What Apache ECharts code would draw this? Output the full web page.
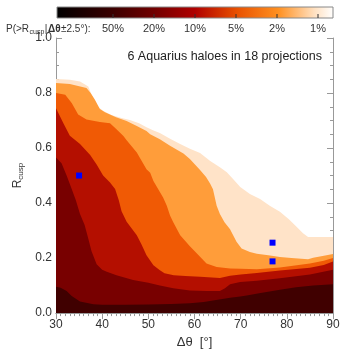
<!DOCTYPE html>
<html>
<head>
<meta charset="utf-8">
<script src="https://cdn.jsdelivr.net/npm/echarts@6/dist/echarts.min.js"></script>
<style>
  html, body { margin: 0; padding: 0; background: #fff; }
  #chart { width: 354px; height: 354px; }
</style>
</head>
<body>
<div id="chart"></div>
<script>
// contour upper edges [dtheta, Rcusp], one per probability level
const level1pct = [[30,0.851],[33,0.848],[35.2,0.842],[37,0.824],[38.1,0.776],[39.2,0.748],[40.2,0.736],[42,0.72],[44,0.71],[46,0.702],[48,0.69],[49.6,0.676],[51,0.665],[52.5,0.655],[54.7,0.634],[57,0.614],[59,0.597],[61.2,0.582],[63.4,0.553],[65.5,0.53],[67,0.512],[68.5,0.485],[69.9,0.458],[72,0.433],[74.2,0.415],[76.3,0.39],[78.5,0.368],[80.5,0.34],[82.1,0.314],[83.5,0.29],[84.6,0.277],[90,0.277]];
const level2pct = [[30,0.836],[33,0.833],[36.6,0.818],[37.5,0.8],[38.4,0.776],[39.5,0.742],[40.6,0.73],[43,0.712],[45.3,0.698],[47.5,0.68],[49.6,0.662],[50.4,0.65],[52.5,0.632],[54.7,0.608],[57.6,0.58],[59,0.56],[61.2,0.52],[62.5,0.495],[63.4,0.47],[64,0.45],[64.8,0.39],[65.5,0.36],[66.5,0.33],[67.7,0.305],[69.1,0.259],[70.2,0.235],[72,0.222],[73.5,0.216],[76,0.21],[78.5,0.204],[81,0.2],[84.6,0.196],[85.7,0.201],[88.6,0.21],[90,0.215]];
const level5pct = [[30,0.8],[32,0.794],[33.4,0.764],[34.8,0.722],[36.6,0.704],[39.5,0.695],[41.7,0.69],[43.1,0.668],[44.6,0.644],[45.3,0.628],[47.5,0.584],[49.6,0.523],[50.4,0.51],[51.1,0.48],[52.5,0.44],[53.2,0.42],[54,0.39],[54.7,0.355],[55.4,0.33],[56.9,0.283],[59,0.243],[61.2,0.205],[62.6,0.18],[64.8,0.168],[67.7,0.162],[70,0.161],[73.5,0.159],[78.5,0.166],[85,0.18],[88,0.19],[90,0.2]];
const level10pct = [[30,0.745],[31.6,0.69],[33,0.645],[35.2,0.615],[37.4,0.575],[38.8,0.54],[40.2,0.5],[41.7,0.475],[42.8,0.451],[43.6,0.41],[44.2,0.37],[45.3,0.332],[47.5,0.283],[48.5,0.25],[49.6,0.21],[51.1,0.174],[52.5,0.156],[53.5,0.145],[55.5,0.138],[58,0.135],[61.2,0.132],[65.5,0.128],[67.7,0.136],[70,0.14],[73.5,0.146],[78.5,0.155],[85,0.165],[88,0.175],[90,0.188]];
const level20pct = [[30,0.566],[31.2,0.545],[32.3,0.5],[33.4,0.451],[34.3,0.41],[35.2,0.36],[36.2,0.32],[37,0.27],[37.7,0.225],[38.8,0.178],[40,0.158],[41,0.15],[43.1,0.138],[46.7,0.12],[50,0.11],[52.5,0.1],[55.4,0.09],[59,0.082],[62.6,0.08],[65.5,0.08],[66.6,0.09],[67.7,0.105],[69.9,0.113],[73.5,0.118],[78.5,0.127],[85,0.14],[90,0.158]];
const level50pct = [[30,0.096],[31,0.092],[32.3,0.08],[33.4,0.062],[35.2,0.042],[38.1,0.032],[40,0.03],[45,0.03],[50,0.031],[55,0.033],[59,0.036],[62,0.04],[64,0.046],[67.7,0.056],[69.9,0.06],[71.3,0.064],[74,0.072],[78.5,0.085],[82,0.094],[85.7,0.1],[90,0.105]];

const lensPoints = [[35,0.5],[76.9,0.256],[76.9,0.188]];

const levelColors = ['#ffe3c8', '#ff9d3a', '#f05a05', '#b40f00', '#780000', '#400000'];
const cbLabels = ['50%', '20%', '10%', '5%', '2%', '1%'];
// colorbar caption pieces: [text, font, dy]
const cbCaption = [
  ['P(>R', '10px Liberation Sans', 0],
  ['cusp', '7px Liberation Sans', 3],
  ['|', '10px Liberation Sans', 0],
  ['Δθ', 'bold 10px Liberation Sans', 0],
  ['±2.5°):', '10px Liberation Sans', 0]
];

const chart = echarts.init(document.getElementById('chart'));

const levels = [level1pct, level2pct, level5pct, level10pct, level20pct, level50pct];
const axisGray = '#999';
const textCol = '#333';
const font = 'Liberation Sans';

// colorbar geometry
const cbX = 57, cbY = 7, cbW = 276, cbH = 11;
const cbTick = i => 113 + i * 41;

const graphic = [
  {
    type: 'rect',
    shape: { x: cbX, y: cbY, width: cbW, height: cbH },
    style: {
      fill: new echarts.graphic.LinearGradient(0, 0, 1, 0, [
        { offset: 0, color: '#000000' },
        { offset: 0.2, color: '#3a0000' },
        { offset: 0.35, color: '#700000' },
        { offset: 0.5, color: '#b00000' },
        { offset: 0.65, color: '#e85000' },
        { offset: 0.8, color: '#ff9020' },
        { offset: 0.93, color: '#ffe0c0' },
        { offset: 1, color: '#ffffff' }
      ]),
      stroke: '#888',
      lineWidth: 1
    }
  },
  {
    type: 'text',
    x: 322, y: 57,
    style: {
      text: '6 Aquarius haloes in 18 projections',
      textAlign: 'right',
      textVerticalAlign: 'middle',
      font: '12.5px ' + font,
      fill: '#222'
    }
  }
];

// caption laid out piece by piece
const ctx = document.createElement('canvas').getContext('2d');
let capX = 6;
cbCaption.forEach(([txt, f, dy]) => {
  graphic.push({
    type: 'text',
    x: capX, y: 29 + dy,
    style: { text: txt, font: f, fill: textCol, textVerticalAlign: 'middle' }
  });
  ctx.font = f;
  capX += ctx.measureText(txt).width + 0.5;
});

cbLabels.forEach((lab, i) => {
  graphic.push({
    type: 'line',
    shape: { x1: cbTick(i), y1: cbY + cbH - 4, x2: cbTick(i), y2: cbY + cbH },
    style: { stroke: '#333', lineWidth: 1 }
  });
  graphic.push({
    type: 'text',
    x: cbTick(i), y: 29,
    style: {
      text: lab,
      textAlign: 'center',
      textVerticalAlign: 'middle',
      font: '11px ' + font,
      fill: textCol
    }
  });
});

const xBase = {
  type: 'value', min: 30, max: 90, interval: 10,
  axisLine: { lineStyle: { color: axisGray } },
  axisTick: { inside: true, length: 6, lineStyle: { color: axisGray } },
  minorTick: { show: true, splitNumber: 10, length: 3, lineStyle: { color: axisGray } },
  splitLine: { show: false }
};
const yBase = {
  type: 'value', min: 0, max: 1, interval: 0.2,
  axisLine: { show: true, lineStyle: { color: axisGray } },
  axisTick: { show: true, inside: true, length: 6, lineStyle: { color: axisGray } },
  minorTick: { show: true, splitNumber: 4, length: 3, lineStyle: { color: axisGray } },
  splitLine: { show: false }
};

const option = {
  animation: false,
  backgroundColor: '#fff',
  graphic: graphic,
  grid: { left: 56, right: 21, top: 38, bottom: 39 },
  xAxis: [
    Object.assign({}, xBase, {
      position: 'bottom',
      name: 'Δθ  [°]',
      nameLocation: 'middle',
      nameGap: 20,
      nameTextStyle: { fontSize: 13, fontFamily: font, color: textCol },
      axisLabel: { margin: 6, fontSize: 12, fontFamily: font, color: textCol }
    }),
    Object.assign({}, xBase, { position: 'top', axisLabel: { show: false } })
  ],
  yAxis: [
    Object.assign({}, yBase, {
      position: 'left',
      name: '{r|R}{s|cusp}',
      nameLocation: 'middle',
      nameRotate: 90,
      nameGap: 30,
      nameTextStyle: {
        rich: {
          r: { fontSize: 12, fontFamily: font, color: textCol, lineHeight: 14 },
          s: { fontSize: 8, fontFamily: font, color: textCol, lineHeight: 6, verticalAlign: 'bottom' }
        }
      },
      axisLabel: { margin: 4, fontSize: 12, fontFamily: font, color: textCol, formatter: v => v.toFixed(1) }
    }),
    Object.assign({}, yBase, { position: 'right', axisLabel: { show: false } })
  ],
  series: levels.map((d, i) => ({
    type: 'line',
    data: d,
    showSymbol: false,
    silent: true,
    lineStyle: { width: 0, color: levelColors[i] },
    itemStyle: { color: levelColors[i] },
    areaStyle: { color: levelColors[i], opacity: 1, origin: 'start' }
  })).concat([{
    type: 'scatter',
    data: lensPoints,
    symbol: 'rect',
    symbolSize: 6,
    itemStyle: { color: '#0000ff', opacity: 1 },
    z: 5
  }])
};

chart.setOption(option);
</script>
</body>
</html>
